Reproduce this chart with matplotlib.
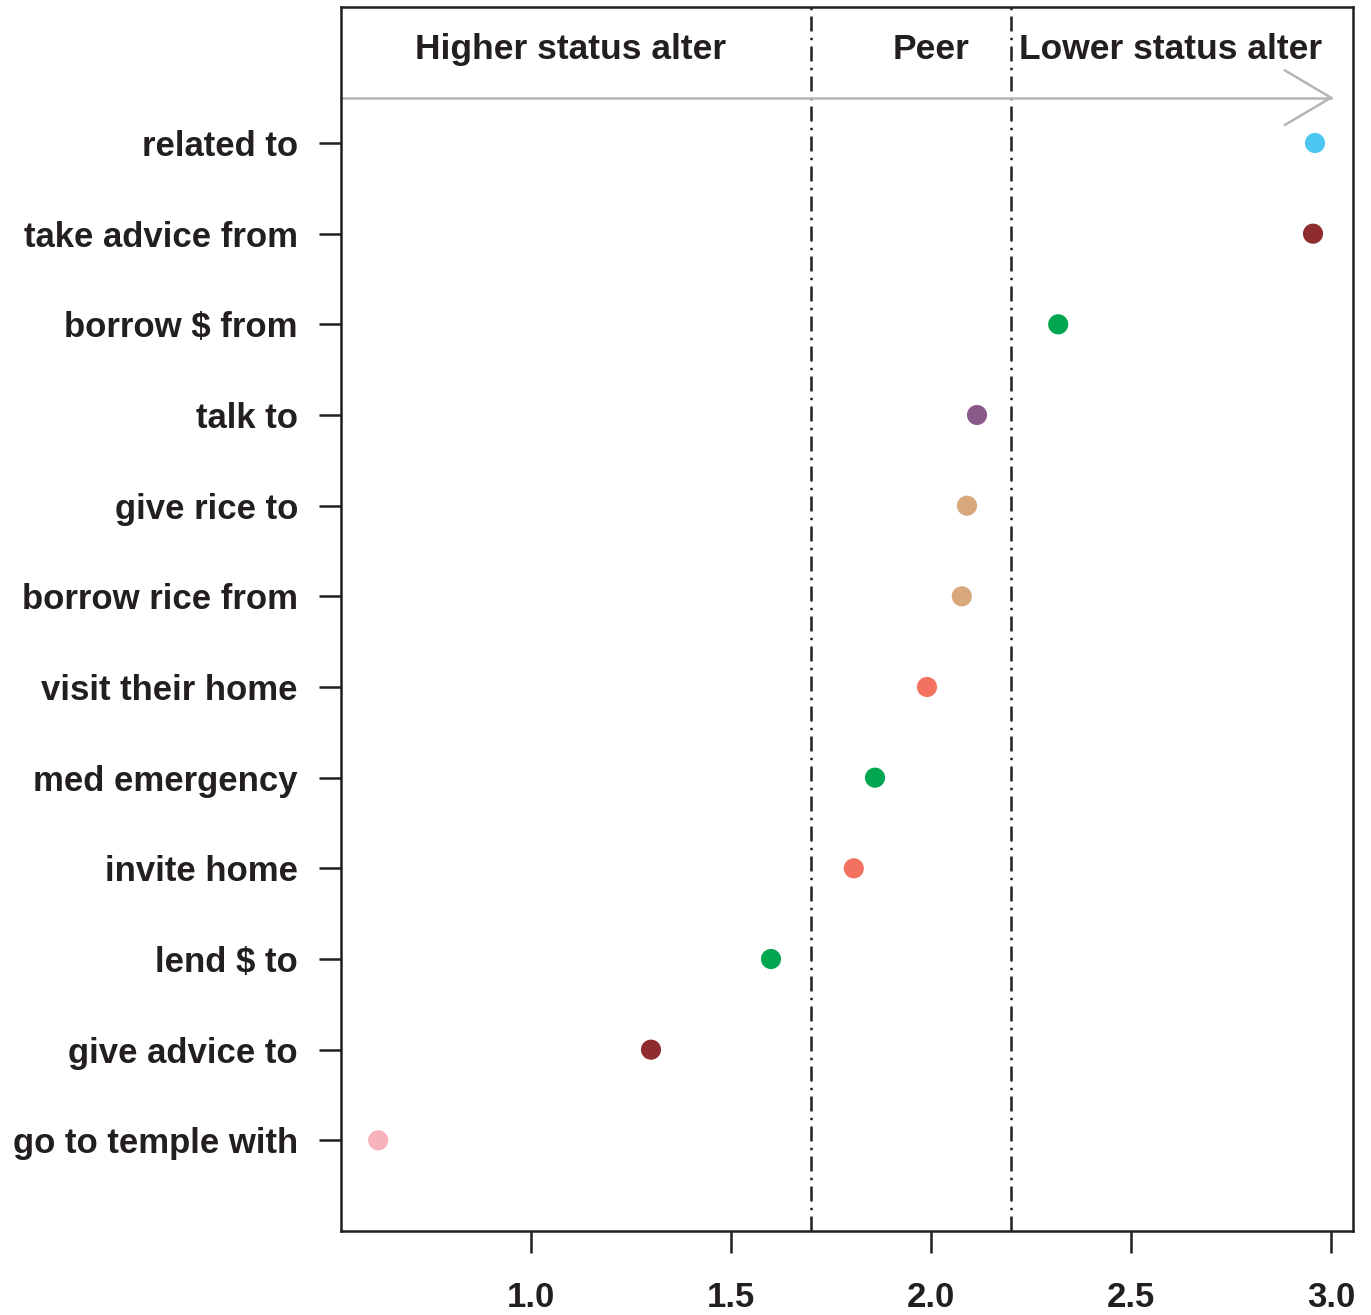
import matplotlib
matplotlib.use("Agg")
import matplotlib.pyplot as plt
from matplotlib import font_manager

labels = ["related to", "take advice from", "borrow $ from", "talk to", "give rice to",
          "borrow rice from", "visit their home", "med emergency", "invite home",
          "lend $ to", "give advice to", "go to temple with"]
values = [2.96, 2.955, 2.318, 2.115, 2.09, 2.077, 1.99, 1.86, 1.807, 1.60, 1.30, 0.618]
colors = ["#4CC6F2", "#8E2C2F", "#00A650", "#8A5A8B", "#D9A77C", "#D9A77C",
          "#F27160", "#00A650", "#F27160", "#00A650", "#8E2C2F", "#F6B3BA"]
xticks = [1.0, 1.5, 2.0, 2.5, 3.0]
xticklabels = ["1.0", "1.5", "2.0", "2.5", "3.0"]
boundaries = [1.7, 2.2]
headers = ["Higher status alter", "Peer", "Lower status alter"]
header_x = [1.1, 2.0, 2.6]

names = {f.name for f in font_manager.fontManager.ttflist}
narrow = "Liberation Sans Narrow" if "Liberation Sans Narrow" in names else "Liberation Sans"

fig = plt.figure(figsize=(13.71, 13.15), dpi=100)
ax = fig.add_axes([341/1371, 1 - 1231/1315, (1353-341)/1371, (1231-7)/1315])

n = len(labels)
ypos = list(range(n, 0, -1))
ax.scatter(values, ypos, s=210, c=colors, zorder=3, linewidths=0)

for b in boundaries:
    ax.axvline(b, color="#222222", lw=1.8, linestyle=(0, (6, 2.5, 1, 2.5)), zorder=1)

# arrow line
ax.plot([0.525, 3.0], [12.5, 12.5], color="#b5b5b5", lw=1.8, clip_on=False, zorder=2)
ax.plot([2.885, 3.0, 2.885], [12.8, 12.5, 12.2], color="#b5b5b5", lw=1.8, zorder=2)

for h, hx in zip(headers, header_x):
    ax.text(hx, 13.03, h, ha="center", va="center", fontsize=25.5, fontweight="bold",
            family=[narrow, "DejaVu Sans"], color="#231f20")

ax.set_xlim(0.525, 3.055)
ax.set_ylim(0, 13.5)
ax.set_yticks(ypos)
ax.set_yticklabels(labels)
ax.set_xticks(xticks)
ax.set_xticklabels(xticklabels)
for lab in ax.get_yticklabels() + ax.get_xticklabels():
    lab.set_fontfamily("Liberation Sans")
    lab.set_fontweight("bold")
    lab.set_fontsize(25)
    lab.set_color("#231f20")
ax.tick_params(axis="y", length=16, width=1.8, pad=15, color="#231f20")
ax.tick_params(axis="x", length=16, width=1.8, pad=20, color="#231f20")
for sp in ax.spines.values():
    sp.set_linewidth(1.8)
    sp.set_color("#231f20")

fig.savefig("out.png", dpi=100)
